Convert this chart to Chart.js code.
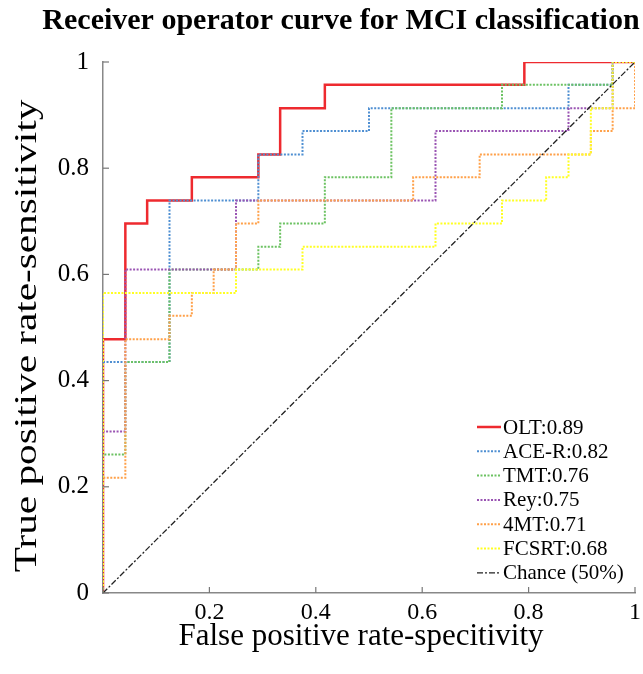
<!DOCTYPE html>
<html>
<head>
<meta charset="utf-8">
<script src="https://cdn.jsdelivr.net/npm/chart.js@4"></script>
<style>
  html, body { margin: 0; padding: 0; background: #fff; }
  #rocChart { display: block; }
</style>
</head>
<body>
<canvas id="rocChart" width="643" height="674"></canvas>
<script>
// curve names and AUCs, as printed in the legend
const seriesNames = ['OLT:0.89', 'ACE-R:0.82', 'TMT:0.76', 'Rey:0.75', '4MT:0.71', 'FCSRT:0.68', 'Chance (50%)'];

// ROC corner points (x = false positive rate, y = true positive rate)
const oltX = [0, 0, 0.042, 0.042, 0.083, 0.083, 0.167, 0.167, 0.292, 0.292, 0.333, 0.333, 0.417, 0.417, 0.792, 0.792, 1];
const oltY = [0, 0.478, 0.478, 0.696, 0.696, 0.739, 0.739, 0.783, 0.783, 0.826, 0.826, 0.913, 0.913, 0.957, 0.957, 1, 1];

const aceX = [0, 0, 0.125, 0.125, 0.292, 0.292, 0.375, 0.375, 0.5, 0.5, 0.875, 0.875, 0.958, 0.958, 1];
const aceY = [0, 0.435, 0.435, 0.739, 0.739, 0.826, 0.826, 0.870, 0.870, 0.913, 0.913, 0.957, 0.957, 1, 1];

const tmtX = [0, 0, 0.042, 0.042, 0.125, 0.125, 0.292, 0.292, 0.333, 0.333, 0.417, 0.417, 0.542, 0.542, 0.75, 0.75, 0.958, 0.958, 1];
const tmtY = [0, 0.261, 0.261, 0.435, 0.435, 0.609, 0.609, 0.652, 0.652, 0.696, 0.696, 0.783, 0.783, 0.913, 0.913, 0.957, 0.957, 1, 1];

const reyX = [0, 0, 0.042, 0.042, 0.25, 0.25, 0.625, 0.625, 0.875, 0.875, 0.958, 0.958, 1];
const reyY = [0, 0.304, 0.304, 0.609, 0.609, 0.739, 0.739, 0.870, 0.870, 0.913, 0.913, 1, 1];

const fmtX = [0, 0, 0.042, 0.042, 0.125, 0.125, 0.167, 0.167, 0.208, 0.208, 0.25, 0.25, 0.292, 0.292, 0.583, 0.583, 0.708, 0.708, 0.917, 0.917, 0.958, 0.958, 1, 1];
const fmtY = [0, 0.217, 0.217, 0.478, 0.478, 0.522, 0.522, 0.565, 0.565, 0.609, 0.609, 0.696, 0.696, 0.739, 0.739, 0.783, 0.783, 0.826, 0.826, 0.870, 0.870, 0.913, 0.913, 1];

const fcsrtX = [0, 0, 0.25, 0.25, 0.375, 0.375, 0.625, 0.625, 0.75, 0.75, 0.833, 0.833, 0.875, 0.875, 0.917, 0.917, 0.958, 0.958, 1];
const fcsrtY = [0, 0.565, 0.565, 0.609, 0.609, 0.652, 0.652, 0.696, 0.696, 0.739, 0.739, 0.783, 0.783, 0.826, 0.826, 0.913, 0.913, 1, 1];

const chanceX = [0, 1];
const chanceY = [0, 1];

const tickValues = [0, 0.2, 0.4, 0.6, 0.8, 1];
const xTickLabels = ['', '0.2', '0.4', '0.6', '0.8', '1'];
const yTickLabels = ['0', '0.2', '0.4', '0.6', '0.8', '1'];

const serif = "'Liberation Serif', 'Times New Roman', serif";
const colors = ['#ee2a2f', '#4f8fd2', '#6cc262', '#9a54b3', '#ffa048', '#ffff22', '#222222'];
const dotted = [2, 1.5];
const dashDot = [6, 2, 2, 2];

function pts(xs, ys) {
  return xs.map((x, i) => ({ x: x, y: ys[i] }));
}

const curves = [[oltX, oltY], [aceX, aceY], [tmtX, tmtY], [reyX, reyY], [fmtX, fmtY], [fcsrtX, fcsrtY], [chanceX, chanceY]];

const datasets = curves.map((c, i) => ({
  label: seriesNames[i],
  data: pts(c[0], c[1]),
  borderColor: colors[i],
  borderWidth: i === 0 ? 2.5 : (i === 6 ? 1.3 : 2),
  borderDash: i === 0 ? [] : (i === 6 ? dashDot : dotted),
  pointRadius: 0,
  tension: 0,
  fill: false,
  // later curves sit on top, like the original plot
  order: curves.length - i
}));

// text, inward ticks and legend drawn on top of the chart
const decorations = {
  id: 'decorations',
  afterDraw(chart) {
    const ctx = chart.ctx;
    const xs = chart.scales.x;
    const ys = chart.scales.y;
    const area = chart.chartArea;
    ctx.save();

    // inward tick marks
    ctx.strokeStyle = '#777';
    ctx.lineWidth = 1.2;
    tickValues.forEach(v => {
      const px = xs.getPixelForValue(v);
      ctx.beginPath();
      ctx.moveTo(px, area.bottom);
      ctx.lineTo(px, area.bottom - 6);
      ctx.stroke();
      const py = ys.getPixelForValue(v);
      ctx.beginPath();
      ctx.moveTo(area.left, py);
      ctx.lineTo(area.left + 6, py);
      ctx.stroke();
    });

    ctx.fillStyle = '#000';
    // title
    ctx.font = 'bold 30px ' + serif;
    ctx.textAlign = 'center';
    ctx.textBaseline = 'middle';
    ctx.fillText('Receiver operator curve for MCI classification', 341, 21);

    // x axis title
    ctx.font = '31px ' + serif;
    ctx.textBaseline = 'alphabetic';
    ctx.fillText('False positive rate-specitivity', 361, 645);

    // y axis title, a bit stretched along its length as in the original
    ctx.save();
    ctx.textBaseline = 'middle';
    ctx.translate(28, 336);
    ctx.rotate(-Math.PI / 2);
    ctx.scale(1.33, 1);
    ctx.fillText('True positive rate-sensitivity', 0, 0);
    ctx.restore();

    // legend
    ctx.font = '21px ' + serif;
    ctx.textAlign = 'left';
    ctx.textBaseline = 'middle';
    chart.data.datasets.forEach((ds, i) => {
      const y = 427 + i * 24.3;
      ctx.strokeStyle = ds.borderColor;
      ctx.lineWidth = i === 0 ? 2.5 : (i === 6 ? 1.3 : 2);
      ctx.setLineDash(ds.borderDash);
      ctx.beginPath();
      ctx.moveTo(477, y);
      ctx.lineTo(501, y);
      ctx.stroke();
      ctx.setLineDash([]);
      ctx.fillText(ds.label, 503, y + 1);
    });
    ctx.restore();
  }
};

new Chart(document.querySelector('#rocChart'), {
  type: 'line',
  data: { datasets: datasets },
  options: {
    responsive: false,
    animation: false,
    layout: { padding: { left: 0, top: 62, right: 8, bottom: 0 } },
    plugins: {
      legend: { display: false },
      tooltip: { enabled: false },
      title: { display: false }
    },
    scales: {
      x: {
        type: 'linear',
        min: 0,
        max: 1,
        afterFit: s => { s.height = 81; s.paddingLeft = 0; s.paddingRight = 0; },
        afterBuildTicks: s => { s.ticks = tickValues.map(v => ({ value: v })); },
        grid: { display: false, drawTicks: false },
        border: { display: true, color: '#888', width: 1.5 },
        ticks: {
          padding: 5,
          color: '#000',
          font: { family: serif, size: 24 },
          maxRotation: 0,
          callback: (v, i) => xTickLabels[i]
        }
      },
      y: {
        type: 'linear',
        min: 0,
        max: 1,
        afterFit: s => { s.width = 103; s.paddingTop = 0; s.paddingBottom = 0; },
        afterBuildTicks: s => { s.ticks = tickValues.map(v => ({ value: v })); },
        grid: { display: false, drawTicks: false },
        border: { display: true, color: '#888', width: 1.5 },
        ticks: {
          padding: 14,
          color: '#000',
          font: { family: serif, size: 25 },
          callback: (v, i) => yTickLabels[i]
        }
      }
    }
  },
  plugins: [decorations]
});
</script>
</body>
</html>
